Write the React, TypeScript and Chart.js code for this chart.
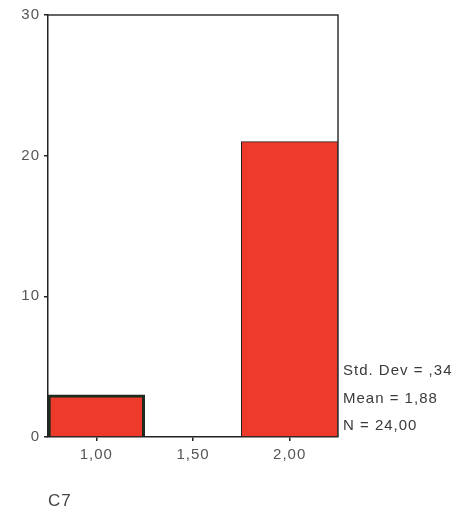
import React, { useEffect, useRef } from "react";
import { Chart, registerables } from "chart.js";

Chart.register(...registerables);

const categories = ["1,00", "1,50", "2,00"];
const counts: (number | null)[] = [3, null, 21];
const yTicks = [0, 10, 20, 30];
const statsLines = ["Std. Dev = ,34", "Mean = 1,88", "N = 24,00"];
const axisTitle = "C7";

const FONT = "'Liberation Sans', Arial, sans-serif";

const framePlugin = {
  id: "frameAndStats",
  beforeDraw(chart: any) {
    chart.ctx.letterSpacing = "1px";
  },
  afterDatasetsDraw(chart: any) {
    const { ctx, chartArea } = chart;
    ctx.save();
    ctx.strokeStyle = "#333";
    ctx.lineWidth = 1.5;
    ctx.beginPath();
    ctx.moveTo(chartArea.left, chartArea.top);
    ctx.lineTo(chartArea.right, chartArea.top);
    ctx.lineTo(chartArea.right, chartArea.bottom);
    ctx.stroke();
    ctx.fillStyle = "#3a3a3a";
    ctx.font = `15px ${FONT}`;
    ctx.letterSpacing = "1px";
    ctx.textAlign = "left";
    ctx.textBaseline = "middle";
    const x = chartArea.right + 5;
    const baseY = chartArea.bottom - 11;
    for (let i = 0; i < statsLines.length; i++) {
      const line = statsLines[statsLines.length - 1 - i];
      ctx.fillText(line, x, baseY - i * 27.5);
    }
    ctx.restore();
  },
  afterDraw(chart: any) {
    chart.ctx.letterSpacing = "0px";
  },
};

export default function App() {
  const ref = useRef<HTMLCanvasElement | null>(null);
  useEffect(() => {
    if (!ref.current) return;
    const chart = new Chart(ref.current, {
      type: "bar",
      data: {
        labels: categories,
        datasets: [
          {
            data: counts,
            backgroundColor: "#ee3a2a",
            borderColor: ["#1d2a1d", "#222", "#222"],
            borderWidth: [3, 1, 1],
            barPercentage: 1,
            categoryPercentage: 1,
          },
        ],
      },
      options: {
        responsive: false,
        animation: false,
        layout: { padding: { left: 0, right: 122, top: 15, bottom: 0 } },
        plugins: {
          legend: { display: false },
          tooltip: { enabled: false },
        },
        scales: {
          x: {
            type: "category",
            offset: true,
            grid: {
              offset: false,
              display: true,
              drawOnChartArea: false,
              drawTicks: true,
              tickLength: 4,
              color: "#222",
              lineWidth: 1.5,
            },
            border: { display: true, color: "#222", width: 1.5 },
            ticks: {
              color: "#555",
              font: { family: FONT, size: 15 },
              padding: 5,
              maxRotation: 0,
            },
            title: {
              display: true,
              text: axisTitle,
              align: "start",
              color: "#444",
              font: { family: FONT, size: 17 },
              padding: { top: 0, bottom: 5 },
            },
            afterFit: (scale: any) => {
              scale.height = 80;
            },
          },
          y: {
            min: 0,
            max: 30,
            afterBuildTicks: (scale: any) => {
              scale.ticks = yTicks.map((v) => ({ value: v }));
            },
            grid: {
              display: true,
              drawOnChartArea: false,
              drawTicks: true,
              tickLength: 4,
              color: "#222",
              lineWidth: 1.5,
            },
            border: { display: true, color: "#222", width: 1.5 },
            ticks: {
              color: "#555",
              font: { family: FONT, size: 15 },
              padding: 4,
            },
            afterFit: (scale: any) => {
              scale.width = 48;
            },
          },
        },
      },
      plugins: [framePlugin],
    });
    return () => chart.destroy();
  }, []);
  return (
    <div style={{ position: "fixed", left: 0, top: 0, width: 460, height: 517, background: "#fff" }}>
      <canvas ref={ref} width={460} height={517} style={{ width: 460, height: 517 }} />
    </div>
  );
}
